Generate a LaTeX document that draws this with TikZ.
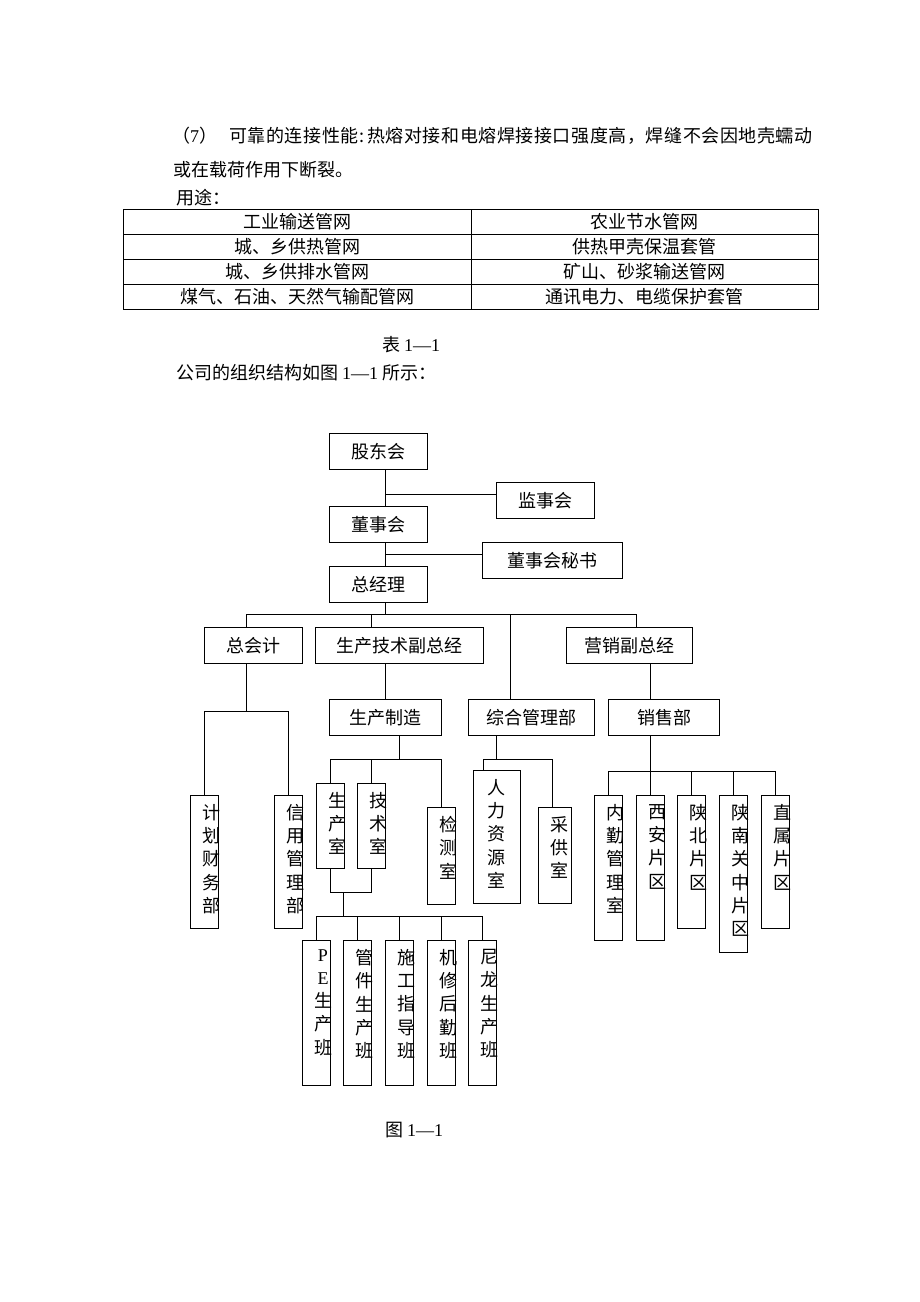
\documentclass[tikz,border=0pt]{standalone}
\usepackage{fontspec}
\setmainfont{Liberation Serif}
\newfontfamily\cjk{Noto Sans CJK SC}
\newfontfamily\cjkwide[LetterSpace=3.2]{Noto Sans CJK SC}
\newcommand\latn[1]{{\rmfamily #1}}
\begin{document}
\begin{tikzpicture}[x=1pt, y=-1pt,
  txt/.style={anchor=west, inner sep=0pt, font=\cjk\fontsize{18}{18}\selectfont},
  cell/.style={inner sep=0pt, font=\cjk\fontsize{18}{18}\selectfont},
  hbox/.style={draw=black, line width=1pt, inner sep=0pt, anchor=north west, minimum height=36pt, font=\cjk\fontsize{18}{18}\selectfont},
  vbox/.style={draw=black, line width=1pt, inner sep=0pt, anchor=north west, minimum width=28pt},
  vlab/.style={anchor=north, xshift=21pt, yshift=-9pt, inner sep=0pt, align=center, font=\cjk\fontsize{18}{23.3}\selectfont},
  conn/.style={draw=black, line width=1pt}]
\fill[white] (0,0) rectangle (920,1302);
% text above the table
\node[txt, font=\cjkwide\fontsize{18}{18}\selectfont] (line1) at (172,136) {（\latn{7}）\hspace{12pt}可靠的连接性能:\,热熔对接和电熔焊接接口强度高，焊缝不会因地壳蠕动};
\node[txt] (line2) at (173,170) {或在载荷作用下断裂。};
\node[txt] (yongtu) at (176,198) {用途：};
% table
\draw[line width=0.9pt] (123,209) rectangle (818,309);
\draw[line width=0.9pt] (123,234) -- (818,234);
\draw[line width=0.9pt] (123,259) -- (818,259);
\draw[line width=0.9pt] (123,284) -- (818,284);
\draw[line width=0.9pt] (471,209) -- (471,309);
\node[cell] (t11) at (297,222) {工业输送管网};
\node[cell] (t12) at (644,222) {农业节水管网};
\node[cell] (t21) at (297,247) {城、乡供热管网};
\node[cell] (t22) at (644,247) {供热甲壳保温套管};
\node[cell] (t31) at (297,272) {城、乡供排水管网};
\node[cell] (t32) at (644,272) {矿山、砂浆输送管网};
\node[cell] (t41) at (297,297) {煤气、石油、天然气输配管网};
\node[cell] (t42) at (644,297) {通讯电力、电缆保护套管};
\node[txt] (biao) at (382,345) {表 \latn{1—1}};
\node[txt] (intro) at (176,373) {公司的组织结构如图 \latn{1—1} 所示：};
% org chart boxes
\node[hbox, minimum width=98pt] (gudong) at (329,433) {股东会};
\node[hbox, minimum width=98pt] (jianshi) at (496,482) {监事会};
\node[hbox, minimum width=98pt] (dongshi) at (329,506) {董事会};
\node[hbox, minimum width=140pt] (mishu) at (482,542) {董事会秘书};
\node[hbox, minimum width=98pt] (zongjingli) at (329,566) {总经理};
\node[hbox, minimum width=98pt] (zongkuaiji) at (204,627) {总会计};
\node[hbox, minimum width=168pt] (shengchanfu) at (315,627) {生产技术副总经};
\node[hbox, minimum width=126pt] (yingxiaofu) at (566,627) {营销副总经};
\node[hbox, minimum width=112pt] (zhizao) at (329,699) {生产制造};
\node[hbox, minimum width=126pt] (zonghe) at (468,699) {综合管理部};
\node[hbox, minimum width=111pt] (xiaoshou) at (608,699) {销售部};
\node[vbox, minimum height=133pt, label={[vlab]north west:计\\划\\财\\务\\部}] (jihua) at (190,795) {};
\node[vbox, minimum height=133pt, label={[vlab]north west:信\\用\\管\\理\\部}] (xinyong) at (274,795) {};
\node[vbox, minimum height=85pt, label={[vlab]north west:生\\产\\室}] (shengchanshi) at (316,783) {};
\node[vbox, minimum height=85pt, label={[vlab]north west:技\\术\\室}] (jishushi) at (357,783) {};
\node[vbox, minimum height=97pt, label={[vlab]north west:检\\测\\室}] (jiance) at (427,807) {};
\node[vbox, minimum width=47pt, minimum height=133pt, label={[vlab, xshift=2pt]north west:人\\力\\资\\源\\室}] (renli) at (473,770) {};
\node[vbox, minimum width=33pt, minimum height=96pt, label={[vlab]north west:采\\供\\室}] (caigong) at (538,807) {};
\node[vbox, minimum height=145pt, label={[vlab]north west:内\\勤\\管\\理\\室}] (neiqin) at (594,795) {};
\node[vbox, minimum height=145pt, label={[vlab]north west:西\\安\\片\\区}] (xian) at (636,795) {};
\node[vbox, minimum height=133pt, label={[vlab]north west:陕\\北\\片\\区}] (shanbei) at (677,795) {};
\node[vbox, minimum height=157pt, label={[vlab]north west:陕\\南\\关\\中\\片\\区}] (shannan) at (719,795) {};
\node[vbox, minimum height=133pt, label={[vlab]north west:直\\属\\片\\区}] (zhishu) at (761,795) {};
\node[vbox, minimum height=145pt, label={[vlab]north west:\latn{P}\\\latn{E}\\生\\产\\班}] (pe) at (302,940) {};
\node[vbox, minimum height=145pt, label={[vlab]north west:管\\件\\生\\产\\班}] (guanjian) at (343,940) {};
\node[vbox, minimum height=145pt, label={[vlab]north west:施\\工\\指\\导\\班}] (shigong) at (385,940) {};
\node[vbox, minimum height=145pt, label={[vlab]north west:机\\修\\后\\勤\\班}] (jixiu) at (427,940) {};
\node[vbox, minimum height=145pt, label={[vlab]north west:尼\\龙\\生\\产\\班}] (nilong) at (468,940) {};
\node[txt] (tu) at (385,1130) {图 \latn{1—1}};
% junctions
\coordinate (jsj) at (385,494);
\coordinate (jms) at (385,554);
\coordinate (busl) at (246,614);
\coordinate (busr) at (636,614);
\coordinate (dsc) at (371,614);
\coordinate (dzh) at (510,614);
\coordinate (bzk) at (246,711);
\coordinate (bzz) at (399,759);
\coordinate (bst) at (343,892);
\coordinate (bpe) at (343,916);
\coordinate (jzh) at (496,759);
\coordinate (zhl) at (483,759);
\coordinate (zhr) at (552,759);
\coordinate (bxs) at (650,771);
% connectors
\draw[conn] (gudong.south -| jsj) -- (dongshi.north -| jsj);
\draw[conn] (jsj) -- (jsj -| jianshi.west);
\draw[conn] (dongshi.south -| jms) -- (zongjingli.north -| jms);
\draw[conn] (jms) -- (jms -| mishu.west);
\draw[conn] (zongjingli.south -| jms) -- (jms |- busl);
\draw[conn] (busl) -- (busr);
\draw[conn] (busl) -- (busl |- zongkuaiji.north);
\draw[conn] (dsc) -- (dsc |- shengchanfu.north);
\draw[conn] (dzh) -- (dzh |- zonghe.north);
\draw[conn] (busr) -- (busr |- yingxiaofu.north);
\draw[conn] (zongkuaiji.south -| bzk) -- (bzk);
\draw[conn] (jihua.north) |- (bzk -| xinyong.north) -- (xinyong.north);
\draw[conn] (shengchanfu.south -| jms) -- (zhizao.north -| jms);
\draw[conn] (zhizao.south -| bzz) -- (bzz);
\draw[conn] (shengchanshi.north) |- (bzz -| jiance.north) -- (jiance.north);
\draw[conn] (jishushi.north) -- (jishushi.north |- bzz);
\draw[conn] (shengchanshi.south) |- (bst -| jishushi.south) -- (jishushi.south);
\draw[conn] (bst) -- (bpe);
\draw[conn] (pe.north) |- (bpe -| nilong.north) -- (nilong.north);
\draw[conn] (guanjian.north) -- (guanjian.north |- bpe);
\draw[conn] (shigong.north) -- (shigong.north |- bpe);
\draw[conn] (jixiu.north) -- (jixiu.north |- bpe);
\draw[conn] (zonghe.south -| jzh) -- (jzh);
\draw[conn] (zhl) -- (zhr);
\draw[conn] (zhl) -- (zhl |- renli.north);
\draw[conn] (zhr) -- (zhr |- caigong.north);
\draw[conn] (yingxiaofu.south -| xian.north) -- (xiaoshou.north -| xian.north);
\draw[conn] (xiaoshou.south -| xian.north) -- (xian.north);
\draw[conn] (neiqin.north) |- (bxs -| zhishu.north) -- (zhishu.north);
\draw[conn] (shanbei.north) -- (shanbei.north |- bxs);
\draw[conn] (shannan.north) -- (shannan.north |- bxs);
\end{tikzpicture}
\end{document}
